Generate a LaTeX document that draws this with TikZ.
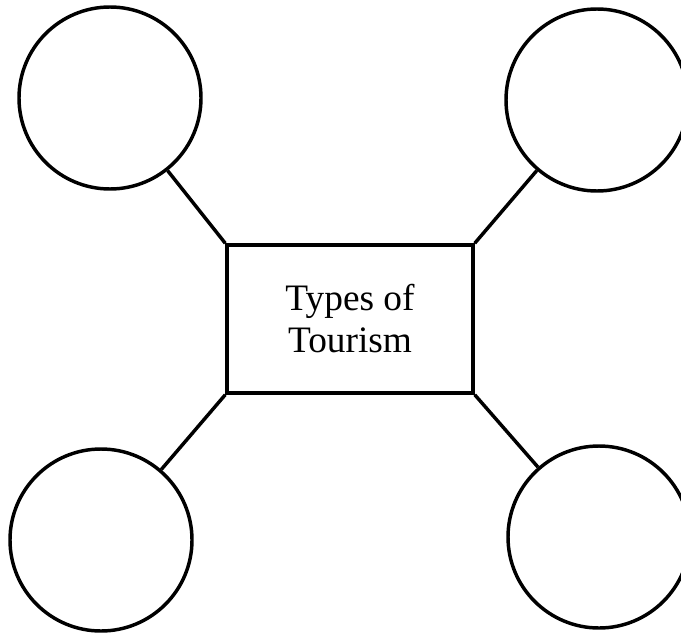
\documentclass[tikz,border=0pt]{standalone}
\usepackage{fontspec}
\setmainfont{Liberation Serif}
\begin{document}
\begin{tikzpicture}[x=0.75pt,y=-0.75pt,
  ln/.style={line width=2.6pt},
  bubble/.style={draw,circle,ln,inner sep=0pt,minimum size=136.5pt},
  centrebox/.style={draw,ln,inner sep=0pt,minimum width=184.5pt,minimum height=111pt,
    align=center,font=\fontsize{28}{31.5}\selectfont}]
\clip (0,0) rectangle (681,635);
\fill[white] (0,0) rectangle (681,635);
\node[centrebox] (box) at (350,319) {Types of\\Tourism};
\node[bubble] (tl) at (110,98) {};
\node[bubble] (tr) at (597,100) {};
\node[bubble] (bl) at (101,540) {};
\node[bubble] (br) at (599,537) {};
\draw[ln] (box.north west) -- (tl);
\draw[ln] (box.north east) -- (tr);
\draw[ln] (box.south west) -- (bl);
\draw[ln] (box.south east) -- (br);
\end{tikzpicture}
\end{document}
